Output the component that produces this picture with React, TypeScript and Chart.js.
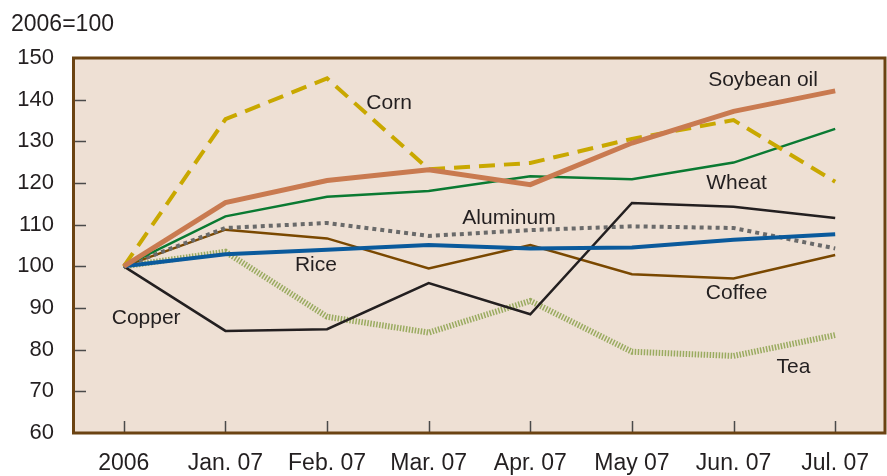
import React, { useEffect, useRef } from "react";
import { Chart, registerables } from "chart.js";

Chart.register(...registerables);

const categories = ["2006", "Jan. 07", "Feb. 07", "Mar. 07", "Apr. 07", "May 07", "Jun. 07", "Jul. 07"];
const corn = [100, 135.3, 145.1, 123.3, 124.8, 130.6, 135.1, 120.3];
const soybeanOil = [100, 115.3, 120.6, 123.2, 119.6, 129.6, 137.2, 142.1];
const wheat = [100, 112.0, 116.7, 118.1, 121.6, 120.9, 124.9, 133.0];
const aluminum = [100, 109.2, 110.4, 107.3, 108.7, 109.6, 109.2, 104.3];
const coffee = [100, 108.8, 106.7, 99.5, 105.1, 98.1, 97.1, 102.7];
const rice = [100, 102.9, 104.0, 105.1, 104.3, 104.5, 106.4, 107.7];
const copper = [100, 84.5, 84.9, 96.0, 88.5, 115.2, 114.3, 111.6];
const tea = [100, 103.5, 87.9, 84.1, 91.7, 79.5, 78.5, 83.5];
const yTicks = [60, 70, 80, 90, 100, 110, 120, 130, 140, 150];
const unitLabel = "2006=100";

// Series annotation labels: text, category index position, value
const labelNames = ["Corn", "Soybean oil", "Wheat", "Aluminum", "Rice", "Copper", "Coffee", "Tea"];
const labelIdx = [2.61, 6.29, 6.03, 3.79, 1.89, 0.22, 6.03, 6.59];
const labelVal = [139.1, 144.6, 120.0, 111.6, 100.3, 87.6, 93.6, 75.9];

const FONT = "'Liberation Sans', Arial, Helvetica, sans-serif";

const framePlugin = {
  id: "frame",
  beforeDatasetsDraw(chart: any) {
    const { ctx, chartArea: a } = chart;
    ctx.save();
    ctx.fillStyle = "#eee0d4";
    ctx.fillRect(a.left, a.top, a.right - a.left, a.bottom - a.top);
    ctx.strokeStyle = "#4a4a4a";
    ctx.lineWidth = 1.5;
    const ys = chart.scales.y;
    yTicks.forEach((v) => {
      if (v === 60 || v === 150) return;
      const py = Math.round(ys.getPixelForValue(v)) + 0.5;
      ctx.beginPath();
      ctx.moveTo(a.left, py);
      ctx.lineTo(a.left + 13, py);
      ctx.stroke();
    });
    const xs = chart.scales.x;
    categories.forEach((_, i) => {
      const px = Math.round(xs.getPixelForValue(i)) + 0.5;
      ctx.beginPath();
      ctx.moveTo(px, a.bottom);
      ctx.lineTo(px, a.bottom - 12);
      ctx.stroke();
    });
    ctx.restore();
  },
  afterDatasetsDraw(chart: any) {
    const { ctx, chartArea: a } = chart;
    ctx.save();
    ctx.strokeStyle = "#6b4312";
    ctx.lineWidth = 3;
    ctx.strokeRect(a.left + 0.5, a.top, a.right - a.left - 1.5, a.bottom - a.top);
    const xs = chart.scales.x;
    const ys = chart.scales.y;
    ctx.fillStyle = "#231f20";
    ctx.font = `21px ${FONT}`;
    ctx.textAlign = "center";
    ctx.textBaseline = "middle";
    labelNames.forEach((t, i) => {
      ctx.fillText(t, xs.getPixelForValue(labelIdx[i]), ys.getPixelForValue(labelVal[i]));
    });
    ctx.font = `23px ${FONT}`;
    ctx.textAlign = "left";
    ctx.fillText(unitLabel, 11, 25);
    ctx.restore();
  },
};

export default function App() {
  const ref = useRef<HTMLCanvasElement | null>(null);
  useEffect(() => {
    if (!ref.current) return;
    const base = { pointRadius: 0, tension: 0, fill: false, borderJoinStyle: "miter" as const };
    const chart = new Chart(ref.current, {
      type: "line",
      data: {
        labels: categories,
        datasets: [
          { ...base, label: "Soybean oil", data: soybeanOil, borderColor: "#c97a50", borderWidth: 5 },
          { ...base, label: "Corn", data: corn, borderColor: "#c9a800", borderWidth: 4, borderDash: [16, 9] },
          { ...base, label: "Rice", data: rice, borderColor: "#0a5a9c", borderWidth: 4 },
          { ...base, label: "Copper", data: copper, borderColor: "#231f20", borderWidth: 2.5 },
          { ...base, label: "Wheat", data: wheat, borderColor: "#0a7a32", borderWidth: 2.5 },
          { ...base, label: "Aluminum", data: aluminum, borderColor: "#6a6a6a", borderWidth: 4, borderDash: [4, 4] },
          { ...base, label: "Coffee", data: coffee, borderColor: "#7a4800", borderWidth: 2.5 },
          { ...base, label: "Tea", data: tea, borderColor: "#9aab60", borderWidth: 6, borderDash: [1.5, 1.5] },
        ],
      },
      options: {
        animation: false,
        responsive: false,
        maintainAspectRatio: false,
        layout: { padding: { top: 58, right: 1, left: 0, bottom: 0 } },
        plugins: { legend: { display: false }, tooltip: { enabled: false }, title: { display: false } },
        scales: {
          x: {
            type: "category",
            offset: true,
            grid: { display: false, drawTicks: false },
            border: { display: false },
            ticks: { color: "#231f20", font: { family: FONT, size: 23, lineHeight: 1 }, padding: 19, maxRotation: 0, autoSkip: false },
            afterFit: (s: any) => { s.height = 43; s.paddingLeft = 0; s.paddingRight = 0; },
          },
          y: {
            min: 60,
            max: 150,
            grid: { display: false, drawTicks: false },
            border: { display: false },
            afterBuildTicks: (s: any) => { s.ticks = yTicks.map((v) => ({ value: v })); },
            ticks: { color: "#231f20", font: { family: FONT, size: 22 }, padding: 19 },
            afterFit: (s: any) => { s.width = 73; },
          },
        },
      },
      plugins: [framePlugin],
    });
    return () => chart.destroy();
  }, []);
  return (
    <div style={{ position: "absolute", left: 0, top: 0, width: 887, height: 476, background: "#fff" }}>
      <canvas ref={ref} width={887} height={476} style={{ width: 887, height: 476, display: "block" }} />
    </div>
  );
}
